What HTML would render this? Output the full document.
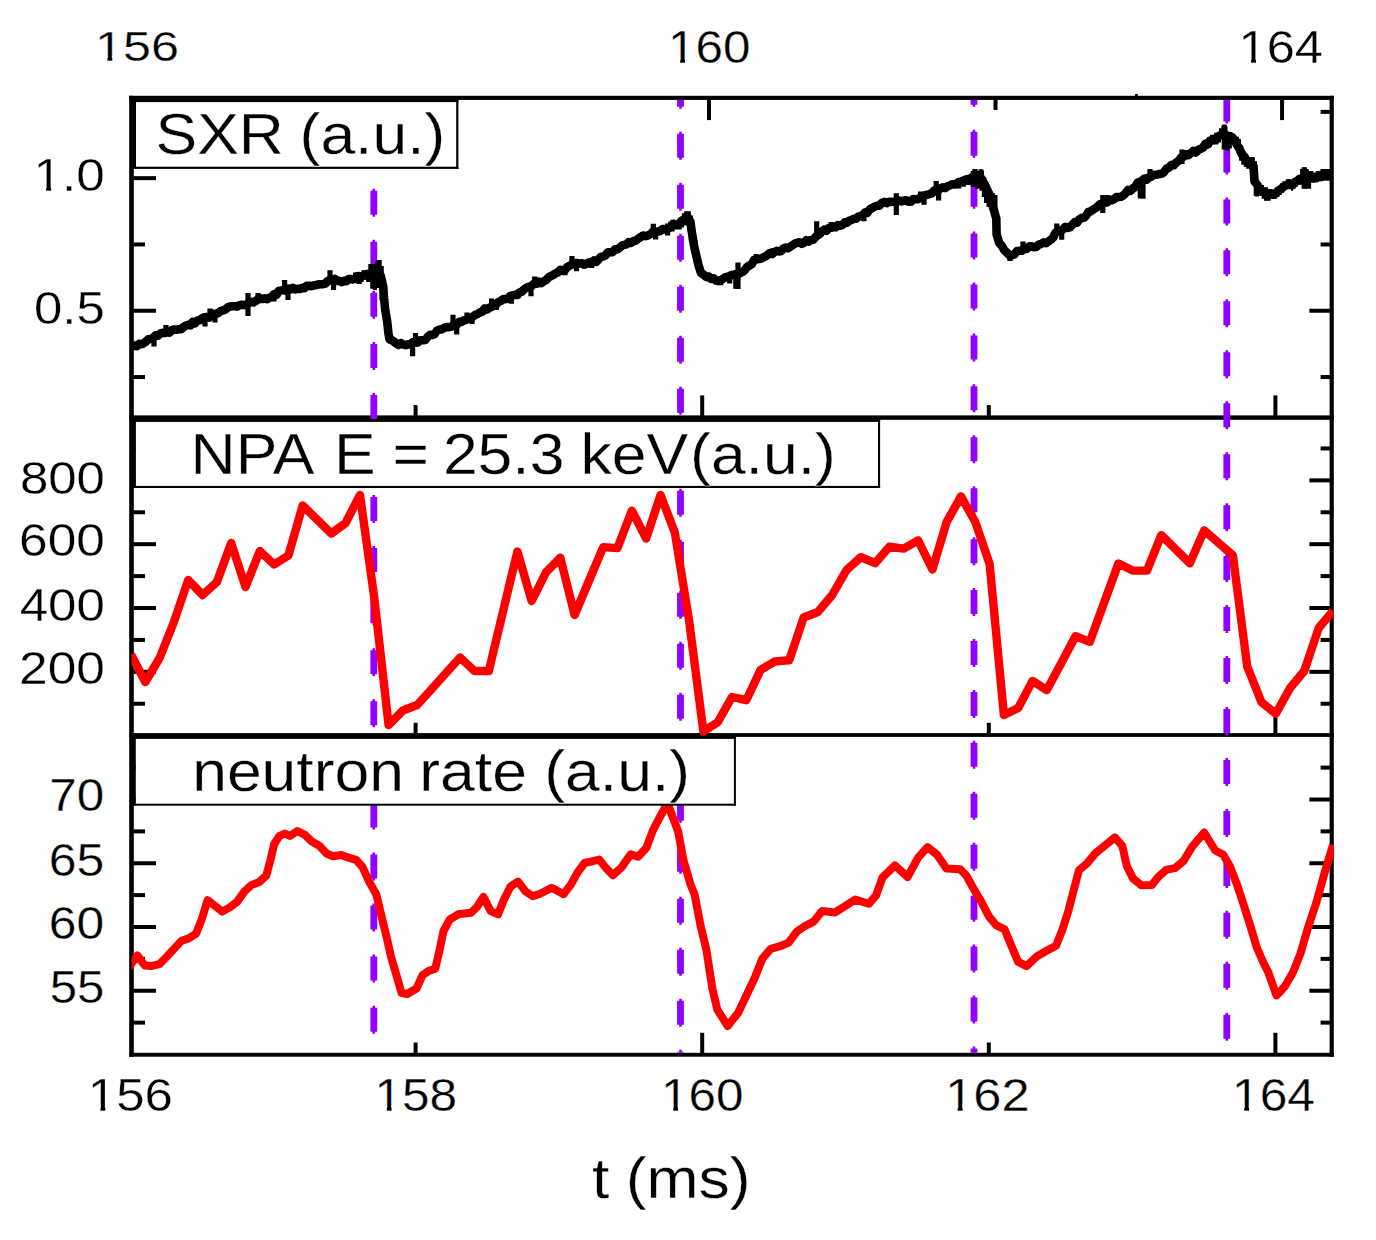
<!DOCTYPE html>
<html><head><meta charset="utf-8"><style>
html,body{margin:0;padding:0;background:#fff;}
svg{display:block;}
text{font-family:"Liberation Sans",sans-serif;fill:#000;stroke:#fff;stroke-width:0.3px;}
</style></head><body>
<svg width="1376" height="1240" viewBox="0 0 1376 1240">
<rect width="1376" height="1240" fill="#fff"/>
<rect x="133.30" y="109.85" width="11.70" height="4.00" fill="#000"/>
<rect x="1320.60" y="109.85" width="9.50" height="4.00" fill="#000"/>
<rect x="133.30" y="176.15" width="22.70" height="4.00" fill="#000"/>
<rect x="1309.40" y="176.15" width="20.70" height="4.00" fill="#000"/>
<rect x="133.30" y="242.45" width="11.70" height="4.00" fill="#000"/>
<rect x="1320.60" y="242.45" width="9.50" height="4.00" fill="#000"/>
<rect x="133.30" y="308.75" width="22.70" height="4.00" fill="#000"/>
<rect x="1309.40" y="308.75" width="20.70" height="4.00" fill="#000"/>
<rect x="133.30" y="375.05" width="11.70" height="4.00" fill="#000"/>
<rect x="1320.60" y="375.05" width="9.50" height="4.00" fill="#000"/>
<rect x="133.30" y="446.46" width="11.70" height="4.00" fill="#000"/>
<rect x="1320.60" y="446.46" width="9.50" height="4.00" fill="#000"/>
<rect x="133.30" y="478.37" width="22.70" height="4.00" fill="#000"/>
<rect x="1309.40" y="478.37" width="20.70" height="4.00" fill="#000"/>
<rect x="133.30" y="510.28" width="11.70" height="4.00" fill="#000"/>
<rect x="1320.60" y="510.28" width="9.50" height="4.00" fill="#000"/>
<rect x="133.30" y="542.19" width="22.70" height="4.00" fill="#000"/>
<rect x="1309.40" y="542.19" width="20.70" height="4.00" fill="#000"/>
<rect x="133.30" y="574.10" width="11.70" height="4.00" fill="#000"/>
<rect x="1320.60" y="574.10" width="9.50" height="4.00" fill="#000"/>
<rect x="133.30" y="606.01" width="22.70" height="4.00" fill="#000"/>
<rect x="1309.40" y="606.01" width="20.70" height="4.00" fill="#000"/>
<rect x="133.30" y="637.92" width="11.70" height="4.00" fill="#000"/>
<rect x="1320.60" y="637.92" width="9.50" height="4.00" fill="#000"/>
<rect x="133.30" y="669.83" width="22.70" height="4.00" fill="#000"/>
<rect x="1309.40" y="669.83" width="20.70" height="4.00" fill="#000"/>
<rect x="133.30" y="701.74" width="11.70" height="4.00" fill="#000"/>
<rect x="1320.60" y="701.74" width="9.50" height="4.00" fill="#000"/>
<rect x="133.30" y="765.62" width="11.70" height="4.00" fill="#000"/>
<rect x="1320.60" y="765.62" width="9.50" height="4.00" fill="#000"/>
<rect x="133.30" y="797.50" width="22.70" height="4.00" fill="#000"/>
<rect x="1309.40" y="797.50" width="20.70" height="4.00" fill="#000"/>
<rect x="133.30" y="829.38" width="11.70" height="4.00" fill="#000"/>
<rect x="1320.60" y="829.38" width="9.50" height="4.00" fill="#000"/>
<rect x="133.30" y="861.25" width="22.70" height="4.00" fill="#000"/>
<rect x="1309.40" y="861.25" width="20.70" height="4.00" fill="#000"/>
<rect x="133.30" y="893.12" width="11.70" height="4.00" fill="#000"/>
<rect x="1320.60" y="893.12" width="9.50" height="4.00" fill="#000"/>
<rect x="133.30" y="925.00" width="22.70" height="4.00" fill="#000"/>
<rect x="1309.40" y="925.00" width="20.70" height="4.00" fill="#000"/>
<rect x="133.30" y="956.88" width="11.70" height="4.00" fill="#000"/>
<rect x="1320.60" y="956.88" width="9.50" height="4.00" fill="#000"/>
<rect x="133.30" y="988.75" width="22.70" height="4.00" fill="#000"/>
<rect x="1309.40" y="988.75" width="20.70" height="4.00" fill="#000"/>
<rect x="133.30" y="1020.62" width="11.70" height="4.00" fill="#000"/>
<rect x="1320.60" y="1020.62" width="9.50" height="4.00" fill="#000"/>
<rect x="413.60" y="405.10" width="4.00" height="10.80" fill="#000"/>
<rect x="700.20" y="395.40" width="4.00" height="20.50" fill="#000"/>
<rect x="986.80" y="405.10" width="4.00" height="10.80" fill="#000"/>
<rect x="1273.40" y="395.40" width="4.00" height="20.50" fill="#000"/>
<rect x="413.60" y="722.80" width="4.00" height="10.80" fill="#000"/>
<rect x="700.20" y="713.10" width="4.00" height="20.50" fill="#000"/>
<rect x="986.80" y="722.80" width="4.00" height="10.80" fill="#000"/>
<rect x="1273.40" y="713.10" width="4.00" height="20.50" fill="#000"/>
<rect x="413.60" y="1042.50" width="4.00" height="10.80" fill="#000"/>
<rect x="700.20" y="1032.80" width="4.00" height="20.50" fill="#000"/>
<rect x="986.80" y="1042.50" width="4.00" height="10.80" fill="#000"/>
<rect x="1273.40" y="1032.80" width="4.00" height="20.50" fill="#000"/>
<rect x="420.44" y="99.40" width="4.00" height="10.50" fill="#000"/>
<rect x="706.98" y="99.40" width="4.00" height="20.70" fill="#000"/>
<rect x="993.52" y="99.40" width="4.00" height="10.50" fill="#000"/>
<rect x="1280.06" y="99.40" width="4.00" height="20.70" fill="#000"/>
<rect x="129.20" y="95.80" width="1204.60" height="4.10" fill="#000"/>
<rect x="129.20" y="1052.80" width="1204.60" height="3.90" fill="#000"/>
<rect x="129.20" y="95.80" width="4.60" height="960.90" fill="#000"/>
<rect x="1329.60" y="95.80" width="4.20" height="960.90" fill="#000"/>
<rect x="129.20" y="415.40" width="1204.60" height="4.40" fill="#000"/>
<rect x="129.20" y="733.10" width="1204.60" height="3.80" fill="#000"/>
<rect x="1135.10" y="94.00" width="2.70" height="2.50" fill="#000"/>
<line x1="373.8" y1="99.9" x2="373.8" y2="1052.8" stroke="#9200ff" stroke-width="6.8" stroke-dasharray="24.0 27.06" stroke-dashoffset="11.32"/>
<line x1="373.8" y1="99.9" x2="373.8" y2="1052.8" stroke="#9200ff" stroke-width="2.6" stroke-dasharray="28.0 23.06" stroke-dashoffset="13.32"/>
<line x1="680.5" y1="99.9" x2="680.5" y2="1052.8" stroke="#9200ff" stroke-width="6.8" stroke-dasharray="24.0 27.00" stroke-dashoffset="17.10"/>
<line x1="680.5" y1="99.9" x2="680.5" y2="1052.8" stroke="#9200ff" stroke-width="2.6" stroke-dasharray="28.0 23.00" stroke-dashoffset="19.10"/>
<line x1="974.0" y1="99.9" x2="974.0" y2="1052.8" stroke="#9200ff" stroke-width="6.8" stroke-dasharray="24.0 26.93" stroke-dashoffset="19.13"/>
<line x1="974.0" y1="99.9" x2="974.0" y2="1052.8" stroke="#9200ff" stroke-width="2.6" stroke-dasharray="28.0 22.93" stroke-dashoffset="21.13"/>
<line x1="1226.8" y1="99.9" x2="1226.8" y2="1052.8" stroke="#9200ff" stroke-width="6.8" stroke-dasharray="24.0 26.96" stroke-dashoffset="2.42"/>
<line x1="1226.8" y1="99.9" x2="1226.8" y2="1052.8" stroke="#9200ff" stroke-width="2.6" stroke-dasharray="28.0 22.96" stroke-dashoffset="4.42"/>
<defs><clipPath id="cx"><rect x="131.5" y="90" width="1202.3" height="980"/></clipPath></defs><g clip-path="url(#cx)"><path d="M129.5,348.0 L131.9,346.7 L134.3,345.5 L136.8,346.2 L139.2,343.8 L141.6,344.3 L143.9,343.1 L146.3,341.3 L148.6,339.0 L151.0,339.0 L153.3,337.7 L155.6,335.4 L157.9,335.6 L160.3,333.6 L162.6,332.7 L164.9,333.0 L167.2,332.1 L169.5,332.7 L171.9,330.0 L174.2,329.6 L176.5,329.8 L178.8,329.2 L181.1,329.2 L183.5,327.1 L185.8,325.6 L188.1,324.9 L190.4,325.4 L192.8,321.7 L195.1,323.2 L197.5,320.5 L199.8,320.2 L202.1,318.3 L204.4,317.3 L206.8,317.0 L209.1,317.6 L211.4,315.8 L213.7,313.7 L216.0,313.8 L218.4,312.9 L220.7,311.0 L223.0,310.3 L225.3,309.6 L227.7,307.4 L230.0,306.6 L232.4,306.2 L234.7,306.3 L237.0,306.5 L239.3,305.4 L241.7,304.7 L244.0,305.1 L246.3,304.5 L248.6,303.4 L250.9,301.9 L253.3,302.4 L255.6,301.1 L257.9,299.5 L260.2,298.4 L262.5,299.0 L264.9,298.4 L267.2,299.1 L269.5,297.6 L271.8,296.9 L274.2,294.1 L276.5,294.8 L278.9,290.8 L281.2,290.5 L283.5,290.0 L285.8,290.8 L288.1,288.7 L290.5,289.5 L292.8,287.9 L295.1,289.5 L297.4,288.8 L299.7,289.0 L302.1,287.9 L304.4,288.2 L306.8,285.9 L309.1,285.9 L311.4,286.1 L313.7,285.5 L316.1,285.1 L318.4,284.4 L320.7,284.2 L323.0,284.2 L325.4,283.5 L327.7,281.0 L330.0,280.1 L332.3,280.7 L334.7,279.0 L337.0,281.0 L339.3,280.9 L341.7,282.1 L344.0,280.7 L346.3,281.2 L348.6,279.1 L351.0,279.0 L353.3,279.4 L355.6,278.4 L358.3,276.0 L361.0,276.4 L363.7,275.5 L366.0,274.2 L368.4,273.8 L370.7,273.3 L373.0,275.1 L375.4,272.9 L377.7,273.7 L380.8,276.0 L383.2,286.5 L384.0,298.1 L385.2,309.8 L387.2,321.4 L388.4,333.0 L389.6,339.5 L391.8,340.1 L394.1,341.8 L396.3,343.5 L398.6,345.0 L401.0,343.1 L403.3,344.6 L405.6,345.2 L407.9,344.4 L410.3,344.4 L412.6,342.3 L415.1,342.8 L417.7,342.5 L420.2,340.3 L422.8,340.2 L425.3,340.0 L427.6,337.0 L430.0,334.8 L432.3,334.9 L434.6,334.1 L437.0,330.6 L439.3,329.6 L441.6,329.5 L444.1,327.9 L446.6,327.1 L449.1,327.1 L451.7,326.6 L454.2,324.8 L456.7,324.7 L459.0,321.9 L461.4,321.9 L463.7,320.5 L466.1,319.8 L468.4,318.3 L470.7,318.5 L473.0,316.5 L475.4,314.8 L477.7,313.9 L480.0,312.4 L482.3,311.6 L484.7,308.4 L487.0,309.5 L489.3,307.8 L491.7,306.8 L494.0,304.3 L496.3,304.2 L498.6,301.9 L501.0,300.9 L503.3,299.0 L505.6,299.1 L507.9,298.7 L510.2,296.1 L512.6,295.3 L514.9,294.9 L517.2,295.0 L519.5,292.5 L521.9,291.6 L524.2,289.3 L526.5,287.7 L528.9,286.7 L531.2,286.3 L533.7,284.0 L536.2,283.8 L538.8,281.7 L541.3,283.2 L543.8,281.3 L546.3,279.9 L548.6,277.3 L550.9,276.1 L553.3,274.9 L555.6,273.4 L557.9,272.3 L560.2,269.9 L562.6,270.8 L564.9,269.9 L567.2,267.1 L569.6,265.8 L571.9,264.6 L574.4,263.2 L576.9,263.0 L579.5,263.6 L582.0,263.2 L584.5,264.7 L587.0,263.5 L589.3,262.4 L591.6,263.3 L593.9,260.5 L596.3,261.9 L598.6,259.3 L601.0,256.8 L603.3,256.5 L605.6,255.2 L607.9,252.2 L610.3,252.3 L612.6,252.2 L614.9,249.3 L617.2,249.4 L619.5,247.9 L621.9,245.6 L624.2,244.9 L626.5,244.3 L628.8,242.2 L631.1,242.9 L633.5,241.1 L635.8,240.7 L638.1,238.8 L640.6,237.1 L643.2,235.5 L645.7,236.1 L648.2,235.4 L650.8,233.8 L653.3,231.5 L655.6,232.0 L657.9,231.6 L660.2,231.0 L662.6,229.0 L664.9,229.5 L667.2,229.0 L669.5,227.6 L671.8,225.7 L674.2,224.8 L676.5,224.6 L678.8,224.3 L681.5,220.8 L684.3,219.3 L687.0,216.0 L690.5,222.0 L691.6,230.7 L694.5,248.1 L698.6,265.6 L700.9,272.7 L704.0,275.0 L706.4,277.2 L708.9,276.5 L711.3,278.9 L713.7,278.4 L716.0,280.5 L718.2,281.0 L720.5,280.3 L723.3,278.6 L726.0,276.9 L728.8,276.5 L731.1,275.2 L733.5,274.6 L735.8,274.1 L738.1,274.5 L740.4,273.0 L742.6,271.9 L744.9,269.9 L747.2,266.9 L749.5,265.5 L751.8,264.1 L754.0,260.0 L756.3,259.4 L758.6,259.0 L760.8,258.8 L763.1,257.5 L765.3,256.6 L767.6,254.8 L769.9,253.0 L772.1,254.0 L774.4,252.2 L776.7,250.8 L779.0,251.4 L781.2,251.0 L783.5,248.4 L785.8,247.5 L788.0,248.3 L790.3,246.7 L792.6,245.2 L794.9,243.6 L797.1,242.8 L799.4,242.2 L801.7,243.9 L803.9,242.9 L806.2,240.3 L808.4,241.7 L810.7,240.1 L813.0,240.0 L815.2,237.5 L817.5,235.1 L819.8,234.2 L822.0,231.4 L824.3,229.6 L826.5,230.9 L828.8,228.0 L831.1,227.8 L833.3,226.7 L835.6,227.3 L837.9,225.1 L840.2,225.7 L842.5,224.9 L844.7,222.4 L847.0,222.6 L849.2,220.8 L851.5,219.9 L853.7,218.7 L856.0,218.7 L858.2,216.7 L860.5,216.1 L862.7,215.3 L865.1,212.4 L867.4,212.9 L869.8,209.4 L872.1,208.0 L874.5,206.7 L876.9,205.8 L879.4,205.6 L881.8,202.9 L884.2,201.9 L886.6,203.1 L889.0,201.8 L891.5,201.9 L893.9,201.8 L896.3,201.7 L898.7,200.3 L901.1,201.5 L903.6,200.7 L906.0,200.2 L908.4,201.7 L910.8,201.8 L913.2,199.1 L915.7,199.2 L918.1,199.2 L920.5,197.7 L922.7,196.9 L925.0,195.2 L927.2,194.8 L929.5,193.9 L931.7,193.6 L934.0,190.6 L936.2,190.8 L938.4,190.1 L940.7,188.2 L942.9,187.4 L945.2,188.0 L947.4,186.3 L949.7,185.5 L951.9,184.4 L954.1,184.4 L956.3,184.1 L958.5,182.0 L960.8,181.7 L963.0,180.7 L965.2,179.9 L967.6,179.0 L970.0,178.7 L972.5,177.1 L974.9,176.3 L977.9,177.2 L980.9,178.0 L985.0,185.0 L989.4,194.4 L996.3,218.6 L996.6,234.3 L999.1,242.8 L1001.8,245.9 L1004.4,250.4 L1007.1,252.8 L1009.7,255.4 L1012.1,255.3 L1014.5,254.3 L1017.0,251.1 L1019.4,250.8 L1021.8,250.7 L1024.2,248.2 L1026.6,249.0 L1029.0,246.6 L1031.5,246.3 L1033.9,247.1 L1036.3,247.0 L1038.7,244.6 L1041.1,244.0 L1043.6,242.4 L1046.0,243.1 L1048.4,241.5 L1050.8,239.8 L1053.2,237.5 L1055.6,232.7 L1058.0,231.2 L1060.4,230.7 L1062.9,229.5 L1065.3,226.8 L1067.7,227.9 L1070.2,227.1 L1072.6,224.6 L1074.9,222.1 L1077.1,222.6 L1079.4,219.3 L1081.7,217.9 L1083.9,217.8 L1086.2,215.6 L1088.4,211.9 L1090.7,211.3 L1093.1,209.5 L1095.5,208.2 L1098.0,206.1 L1100.4,204.1 L1102.8,203.4 L1105.1,202.0 L1107.3,202.4 L1109.6,199.5 L1111.8,200.3 L1114.1,199.1 L1116.4,197.0 L1118.6,197.1 L1120.9,196.8 L1123.3,195.3 L1125.7,193.1 L1128.1,189.9 L1130.5,190.9 L1132.8,188.4 L1135.2,187.1 L1137.6,182.7 L1140.0,182.0 L1142.2,180.3 L1144.4,178.5 L1146.7,179.7 L1148.9,177.2 L1151.1,176.8 L1153.9,174.8 L1156.8,174.7 L1159.6,174.0 L1162.0,173.6 L1164.3,171.8 L1166.7,168.5 L1169.1,167.6 L1171.5,164.7 L1173.9,165.2 L1176.3,162.4 L1178.8,160.9 L1181.2,157.3 L1183.6,156.7 L1186.0,154.3 L1188.4,155.1 L1190.8,153.2 L1193.3,151.0 L1195.7,152.5 L1198.1,150.1 L1200.5,148.8 L1203.0,147.6 L1205.4,143.8 L1207.8,144.4 L1210.3,140.4 L1212.7,140.0 L1215.0,139.8 L1217.3,137.2 L1219.7,135.6 L1222.0,134.9 L1224.3,133.4 L1226.8,136.3 L1229.4,136.0 L1232.0,137.2 L1234.5,140.0 L1236.9,144.7 L1239.3,148.5 L1241.7,154.0 L1244.8,157.3 L1248.0,163.0 L1250.8,163.5 L1253.5,166.0 L1254.5,181.4 L1257.5,185.2 L1260.6,191.6 L1263.0,191.7 L1265.5,193.0 L1267.9,194.5 L1270.3,193.7 L1272.8,194.8 L1275.2,193.8 L1278.1,190.7 L1281.0,188.9 L1283.9,186.5 L1286.8,185.0 L1289.7,185.0 L1292.6,185.0 L1294.9,182.0 L1297.2,181.1 L1299.6,178.7 L1301.9,179.3 L1304.2,177.0 L1306.8,177.2 L1309.3,176.1 L1311.9,176.9 L1314.4,177.0 L1316.7,178.0 L1319.1,175.2 L1321.4,177.0 L1323.7,175.5 L1326.0,175.4 L1328.3,176.1 L1330.7,174.4 L1333.0,174.4" fill="none" stroke="#000" stroke-width="8.6" stroke-linejoin="round" stroke-linecap="butt"/>
<path d="M154.0,337.4 L154.0,346.4 M166.0,332.7 L166.0,325.0 M205.0,318.2 L205.0,326.6 M210.0,316.3 L210.0,308.6 M215.0,314.1 L215.0,322.6 M248.0,303.8 L248.0,293.0 M248.0,303.8 L248.0,316.0 M258.0,299.5 L258.0,293.0 M274.0,294.9 L274.0,301.6 M284.6,290.1 L284.6,280.0 M288.0,289.8 L288.0,300.0 M330.0,280.1 L330.0,270.2 M333.5,280.2 L333.5,290.0 M355.6,278.4 L355.6,272.6 M359.0,277.2 L359.0,284.0 M378.8,274.5 L378.8,260.3 M373.0,274.3 L373.0,288.8 M412.6,342.3 L412.6,356.3 M415.5,341.8 L415.5,333.0 M456.7,324.7 L456.7,334.5 M453.0,325.9 L453.0,314.8 M467.0,319.1 L467.0,312.4 M472.0,316.5 L472.0,324.0 M491.6,305.7 L491.6,298.5 M496.3,303.3 L496.3,310.0 M511.4,297.1 L511.4,303.7 M534.7,284.8 L534.7,276.4 M531.0,286.4 L531.0,296.2 M571.9,264.6 L571.9,256.0 M565.0,268.4 L565.0,275.2 M576.5,264.3 L576.5,271.2 M591.6,263.3 L591.6,268.0 M653.3,231.5 L653.3,223.7 M655.6,231.1 L655.6,239.4 M673.0,226.7 L673.0,219.7 M720.7,280.2 L720.7,285.3 M735.8,275.0 L735.8,288.8 M738.0,274.5 L738.0,262.5 M738.0,274.5 L738.0,289.0 M729.7,276.3 L729.7,283.6 M756.3,259.4 L756.3,254.0 M773.2,252.7 L773.2,248.0 M816.7,236.1 L816.7,221.3 M816.7,236.1 L816.7,239.5 M831.2,227.3 L831.2,222.0 M863.9,214.4 L863.9,221.3 M896.3,201.7 L896.3,193.2 M896.3,201.7 L896.3,215.0 M924.0,196.2 L924.0,204.7 M920.5,197.7 L920.5,191.4 M936.2,190.8 L936.2,181.1 M938.6,189.8 L938.6,200.5 M974.9,176.3 L974.9,169.0 M981.0,178.2 L981.0,169.6 M1010.0,255.3 L1010.0,261.0 M1023.0,248.8 L1023.0,241.5 M1056.8,232.5 L1056.8,223.4 M1061.7,229.5 L1061.7,239.7 M1102.8,203.4 L1102.8,195.0 M1102.8,203.4 L1102.8,213.0 M1106.4,202.1 L1106.4,195.0 M1140.3,181.9 L1140.3,198.6 M1150.0,177.3 L1150.0,169.0 M1143.0,180.6 L1143.0,198.8 M1182.0,157.9 L1182.0,149.4 M1182.0,157.9 L1182.0,164.0 M1224.3,133.4 L1224.3,124.7 M1224.3,133.4 L1224.3,149.4 M1252.0,165.2 L1252.0,157.4 M1256.3,184.4 L1256.3,196.0 M1266.5,193.9 L1266.5,200.3 M1288.3,185.7 L1288.3,179.2 M1304.2,177.0 L1304.2,167.6 M1304.2,177.0 L1304.2,188.7" fill="none" stroke="#000" stroke-width="5.2" stroke-linecap="butt"/>
<path d="M355.0,272.2 L356.8,272.2 L356.8,274.2 L361.5,274.2 L361.5,270.2 L368.3,270.2 L368.3,264.1 L375.2,264.1 L375.2,262.1 L377.2,262.1 L377.2,260.1 L381.6,260.1 L381.6,266.1 L383.8,266.1 L383.8,286.3 L386.0,286.3 L386.0,300.0 L379.6,300.0 L379.6,287.9 L377.0,287.9 L377.0,289.9 L372.9,289.9 L372.9,287.9 L370.5,287.9 L370.5,281.9 L366.1,281.9 L366.1,279.8 L363.7,279.8 L363.7,281.9 L361.3,281.9 L361.3,283.9 L357.0,283.9 L357.0,281.9 L355.0,281.9 Z M665.0,223.6 L668.2,223.6 L668.2,221.4 L673.1,221.4 L673.1,219.4 L674.7,219.4 L674.7,221.4 L679.5,221.4 L679.5,219.6 L681.9,219.6 L681.9,213.3 L684.2,213.3 L684.2,211.3 L690.8,211.3 L690.8,215.5 L692.8,215.5 L692.8,223.8 L695.0,223.8 L695.0,239.9 L697.5,239.9 L697.5,250.0 L691.2,250.0 L691.2,241.5 L688.8,241.5 L688.8,225.4 L684.0,225.4 L684.0,227.6 L681.7,227.6 L681.7,229.6 L674.7,229.6 L674.7,231.5 L670.2,231.5 L670.2,235.5 L665.0,235.5 Z M955.0,179.2 L956.8,179.2 L956.8,181.0 L961.7,181.0 L961.7,179.2 L964.1,179.2 L964.1,177.1 L966.3,177.1 L966.3,175.1 L970.7,175.1 L970.7,171.1 L973.1,171.1 L973.1,169.1 L977.2,169.1 L977.2,170.9 L979.6,170.9 L979.6,169.1 L981.8,169.1 L981.8,170.9 L984.0,170.9 L984.0,177.1 L986.3,177.1 L986.3,187.0 L988.7,187.0 L988.7,193.3 L995.1,193.3 L995.1,195.1 L997.5,195.1 L997.5,209.0 L999.8,209.0 L990.9,210.0 L990.9,207.0 L986.5,207.0 L986.5,203.0 L984.0,203.0 L984.0,196.9 L981.8,196.9 L981.8,190.8 L979.6,190.8 L979.6,188.8 L975.2,188.8 L975.2,186.8 L970.7,186.8 L970.7,185.0 L965.9,185.0 L965.9,186.8 L961.3,186.8 L961.3,188.6 L955.0,188.6 Z M1205.0,139.2 L1207.2,139.2 L1207.2,137.0 L1210.1,137.0 L1210.1,134.8 L1214.2,134.8 L1214.2,132.7 L1219.0,132.7 L1219.0,128.3 L1221.2,128.3 L1221.2,126.4 L1223.4,126.4 L1223.4,124.4 L1225.3,124.4 L1225.3,126.4 L1227.5,126.4 L1227.5,132.7 L1231.6,132.7 L1231.6,134.8 L1234.0,134.8 L1234.0,136.8 L1238.9,136.8 L1238.9,138.9 L1241.0,138.9 L1241.0,145.2 L1243.2,145.2 L1243.2,151.0 L1245.6,151.0 L1245.6,159.0 L1248.1,159.0 L1248.1,157.1 L1254.6,157.1 L1254.6,161.2 L1257.0,161.2 L1257.0,175.0 L1250.2,175.0 L1250.2,168.7 L1246.1,168.7 L1246.1,166.8 L1243.7,166.8 L1243.7,164.8 L1241.3,164.8 L1241.3,160.7 L1239.1,160.7 L1239.1,152.7 L1236.9,152.7 L1236.9,148.4 L1234.5,148.4 L1234.5,144.3 L1231.9,144.3 L1231.9,148.4 L1229.7,148.4 L1229.7,150.8 L1225.3,150.8 L1225.3,148.9 L1223.1,148.9 L1223.1,138.7 L1221.0,138.7 L1221.0,142.6 L1218.5,142.6 L1218.5,144.5 L1211.8,144.5 L1211.8,146.7 L1207.4,146.7 L1207.4,148.9 L1205.0,148.9 Z M1255.0,161.2 L1256.7,161.2 L1256.7,178.9 L1259.1,178.9 L1259.1,183.0 L1261.4,183.0 L1261.4,185.0 L1264.0,185.0 L1264.0,187.3 L1268.1,187.3 L1268.1,189.1 L1272.7,189.1 L1272.7,191.1 L1275.1,191.1 L1275.1,189.1 L1277.4,189.1 L1277.4,187.0 L1280.0,187.0 L1280.0,183.3 L1282.3,183.3 L1282.3,181.2 L1286.7,181.2 L1286.7,179.2 L1290.8,179.2 L1290.8,180.9 L1293.1,180.9 L1293.1,179.2 L1298.0,179.2 L1298.0,175.4 L1300.1,175.4 L1300.1,169.0 L1302.4,169.0 L1302.4,167.3 L1306.7,167.3 L1306.7,169.0 L1308.8,169.0 L1308.8,171.0 L1313.4,171.0 L1313.4,172.8 L1315.8,172.8 L1315.8,171.0 L1320.4,171.0 L1320.4,169.0 L1330.5,169.0 L1330.5,180.6 L1315.8,180.6 L1315.8,182.7 L1311.1,182.7 L1311.1,188.8 L1304.4,188.8 L1304.4,183.0 L1302.1,183.0 L1302.1,184.7 L1297.7,184.7 L1297.7,186.7 L1295.4,186.7 L1295.4,188.8 L1293.1,188.8 L1293.1,190.8 L1291.0,190.8 L1291.0,188.8 L1284.1,188.8 L1284.1,192.8 L1281.7,192.8 L1281.7,194.9 L1279.4,194.9 L1279.4,196.9 L1277.1,196.9 L1277.1,198.7 L1270.7,198.7 L1270.7,200.7 L1264.0,200.7 L1264.0,198.7 L1261.7,198.7 L1261.7,194.9 L1259.1,194.9 L1259.1,196.6 L1255.0,196.6 Z" fill="#000"/>
<path d="M131.0,654.5 L145.3,682.0 L159.6,658.0 L173.9,622.0 L188.2,580.0 L202.6,595.0 L216.9,582.0 L231.2,543.0 L245.5,587.0 L259.8,551.0 L274.1,564.5 L288.4,555.5 L302.7,505.5 L317.0,519.5 L331.3,533.5 L345.6,523.0 L360.0,495.0 L374.3,598.0 L388.6,725.0 L402.9,710.5 L417.2,705.0 L431.5,689.2 L445.8,673.3 L460.1,657.5 L474.4,671.0 L488.8,671.0 L503.1,611.2 L517.4,551.5 L531.7,601.0 L546.0,572.3 L560.3,557.8 L574.6,615.0 L588.9,581.0 L603.2,547.1 L617.5,548.1 L631.9,510.6 L646.2,538.5 L660.5,495.0 L674.8,532.4 L689.1,620.6 L703.4,731.6 L717.7,722.2 L732.0,697.0 L746.3,700.2 L760.6,669.8 L775.0,661.4 L789.3,660.2 L803.6,617.5 L817.9,612.0 L832.2,595.0 L846.5,570.2 L860.8,557.2 L875.1,563.2 L889.4,546.7 L903.7,548.6 L918.1,540.4 L932.4,569.5 L946.7,521.9 L961.0,496.4 L975.3,522.0 L989.6,563.9 L1003.9,715.0 L1018.2,708.0 L1032.5,680.9 L1046.8,690.1 L1061.2,663.2 L1075.5,636.2 L1089.8,641.9 L1104.1,602.7 L1118.4,563.5 L1132.7,570.6 L1147.0,570.6 L1161.3,535.1 L1175.6,549.2 L1189.9,563.2 L1204.2,530.3 L1218.6,542.9 L1232.9,555.5 L1247.2,666.5 L1261.5,702.2 L1275.8,713.7 L1290.1,688.0 L1304.4,670.7 L1318.7,628.0 L1333.0,611.0" fill="none" stroke="#f00" stroke-width="8.4" stroke-linejoin="round" stroke-linecap="butt"/>
<path d="M128.5,968.0 L137.3,955.5 L144.7,965.4 L152.0,965.9 L159.4,964.2 L166.7,956.8 L174.0,948.9 L181.4,940.9 L188.7,938.4 L196.1,933.6 L201.3,920.6 L207.6,900.2 L214.9,905.9 L222.3,911.6 L229.6,907.4 L236.9,902.1 L244.3,891.6 L251.6,884.9 L259.0,882.2 L266.3,875.5 L270.5,860.0 L274.2,844.0 L279.4,836.0 L284.7,833.5 L289.9,836.0 L297.3,831.0 L304.6,834.6 L311.9,841.5 L319.3,845.7 L326.6,853.5 L332.9,856.2 L341.3,855.0 L348.6,857.7 L356.0,859.8 L362.3,866.7 L368.6,880.7 L376.3,894.4 L381.3,915.3 L386.4,936.3 L391.2,957.3 L397.3,978.2 L401.5,992.9 L407.3,994.0 L416.5,988.5 L422.6,975.1 L428.9,970.9 L435.2,968.8 L439.4,951.0 L443.5,931.0 L449.8,919.5 L458.2,914.3 L470.8,912.8 L477.1,906.9 L483.4,896.9 L490.7,911.1 L498.1,914.3 L504.4,898.6 L510.7,886.4 L518.0,881.6 L525.3,891.2 L532.7,896.2 L540.0,893.7 L551.5,887.9 L556.3,890.2 L563.6,894.2 L571.0,884.4 L577.3,872.8 L584.6,863.0 L591.9,861.3 L599.3,859.6 L605.6,867.6 L612.9,875.3 L621.3,867.6 L630.7,854.4 L638.1,856.7 L646.5,847.7 L652.7,830.9 L659.0,818.7 L667.5,803.0 L678.3,832.0 L683.2,859.2 L690.5,884.4 L694.6,894.4 L700.6,925.8 L706.4,950.0 L712.4,988.7 L717.3,1009.7 L727.7,1026.0 L738.2,1012.8 L746.6,995.0 L755.0,977.2 L762.3,958.7 L770.7,948.9 L780.2,946.2 L788.6,942.6 L796.9,931.5 L805.3,925.8 L813.7,921.6 L822.1,911.1 L835.0,912.4 L844.7,906.3 L855.2,899.6 L868.8,903.8 L876.1,895.4 L882.4,877.6 L895.0,865.4 L907.6,877.0 L918.1,857.7 L927.5,847.2 L936.9,854.5 L946.4,868.6 L960.0,869.2 L966.3,875.5 L972.6,887.0 L981.2,901.5 L988.9,916.4 L996.2,925.2 L1004.6,929.4 L1010.9,944.7 L1018.2,961.9 L1026.6,966.1 L1037.1,956.2 L1047.6,950.3 L1056.0,945.7 L1062.3,930.0 L1068.6,910.1 L1074.8,886.0 L1079.0,870.2 L1087.4,862.9 L1095.8,852.8 L1104.2,846.1 L1114.9,837.4 L1122.3,845.8 L1126.8,866.0 L1133.1,878.6 L1141.5,885.3 L1151.9,884.9 L1158.2,877.0 L1166.6,869.6 L1175.0,868.1 L1183.4,861.2 L1191.8,847.2 L1204.2,832.5 L1215.2,850.5 L1223.1,854.5 L1229.9,866.2 L1236.8,884.0 L1243.5,904.3 L1250.3,925.8 L1257.0,948.0 L1264.0,964.0 L1268.1,971.9 L1276.5,995.5 L1284.8,986.6 L1293.2,971.9 L1300.6,953.1 L1307.9,927.9 L1316.3,902.7 L1324.7,872.4 L1333.0,845.0" fill="none" stroke="#f00" stroke-width="8.0" stroke-linejoin="round" stroke-linecap="butt"/></g>
<rect x="135.70" y="101.80" width="320.80" height="65.20" fill="#fff"/>
<rect x="132.90" y="99.00" width="325.50" height="3.10" fill="#000"/>
<rect x="132.90" y="166.70" width="325.50" height="2.20" fill="#000"/>
<rect x="132.90" y="99.00" width="3.10" height="69.90" fill="#000"/>
<rect x="456.20" y="99.00" width="2.20" height="69.90" fill="#000"/>
<rect x="135.60" y="421.60" width="742.70" height="64.60" fill="#fff"/>
<rect x="132.90" y="418.90" width="747.20" height="3.00" fill="#000"/>
<rect x="132.90" y="485.90" width="747.20" height="2.10" fill="#000"/>
<rect x="132.90" y="418.90" width="3.00" height="69.10" fill="#000"/>
<rect x="878.00" y="418.90" width="2.10" height="69.10" fill="#000"/>
<rect x="135.50" y="738.60" width="598.70" height="65.40" fill="#fff"/>
<rect x="132.90" y="736.00" width="603.00" height="2.90" fill="#000"/>
<rect x="132.90" y="803.70" width="603.00" height="2.00" fill="#000"/>
<rect x="132.90" y="736.00" width="2.90" height="69.70" fill="#000"/>
<rect x="733.90" y="736.00" width="2.00" height="69.70" fill="#000"/>
<g transform="translate(95.02,61.27) scale(1.1716,1)"><text font-size="42.96">156</text><rect x="2.15" y="-5.37" width="8.46" height="6.44" fill="#fff"/><rect x="14.73" y="-5.37" width="8.16" height="6.44" fill="#fff"/></g>
<g transform="translate(668.01,63.14) scale(1.0821,1)"><text font-size="45.63">160</text><rect x="2.28" y="-5.70" width="8.99" height="6.85" fill="#fff"/><rect x="15.65" y="-5.70" width="8.67" height="6.85" fill="#fff"/></g>
<g transform="translate(1238.59,63.14) scale(1.1092,1)"><text font-size="45.63">164</text><rect x="2.28" y="-5.70" width="8.99" height="6.85" fill="#fff"/><rect x="15.65" y="-5.70" width="8.67" height="6.85" fill="#fff"/></g>
<g transform="translate(87.85,1110.55) scale(1.1229,1)"><text font-size="45.40">156</text><rect x="2.27" y="-5.67" width="8.94" height="6.81" fill="#fff"/><rect x="15.57" y="-5.67" width="8.63" height="6.81" fill="#fff"/></g>
<g transform="translate(374.60,1111.05) scale(1.0898,1)"><text font-size="45.40">158</text><rect x="2.27" y="-5.67" width="8.94" height="6.81" fill="#fff"/><rect x="15.57" y="-5.67" width="8.63" height="6.81" fill="#fff"/></g>
<g transform="translate(661.10,1110.55) scale(1.0891,1)"><text font-size="45.40">160</text><rect x="2.27" y="-5.67" width="8.94" height="6.81" fill="#fff"/><rect x="15.57" y="-5.67" width="8.63" height="6.81" fill="#fff"/></g>
<g transform="translate(945.19,1110.55) scale(1.1151,1)"><text font-size="45.40">162</text><rect x="2.27" y="-5.67" width="8.94" height="6.81" fill="#fff"/><rect x="15.57" y="-5.67" width="8.63" height="6.81" fill="#fff"/></g>
<g transform="translate(1231.97,1110.55) scale(1.0963,1)"><text font-size="45.40">164</text><rect x="2.27" y="-5.67" width="8.94" height="6.81" fill="#fff"/><rect x="15.57" y="-5.67" width="8.63" height="6.81" fill="#fff"/></g>
<g transform="translate(33.53,190.85) scale(1.1286,1)"><text font-size="45.40">1.0</text><rect x="2.27" y="-5.67" width="8.94" height="6.81" fill="#fff"/><rect x="15.57" y="-5.67" width="8.63" height="6.81" fill="#fff"/></g>
<g transform="translate(33.96,323.95) scale(1.1215,1)"><text font-size="45.40">0.5</text></g>
<g transform="translate(19.91,493.75) scale(1.1229,1)"><text font-size="45.40">800</text></g>
<g transform="translate(19.02,556.25) scale(1.1348,1)"><text font-size="45.40">600</text></g>
<g transform="translate(19.72,621.15) scale(1.1253,1)"><text font-size="45.40">400</text></g>
<g transform="translate(19.02,683.95) scale(1.1348,1)"><text font-size="45.40">200</text></g>
<g transform="translate(49.23,811.25) scale(1.0874,1)"><text font-size="45.40">70</text></g>
<g transform="translate(48.80,875.95) scale(1.1013,1)"><text font-size="45.40">65</text></g>
<g transform="translate(48.81,938.55) scale(1.0959,1)"><text font-size="45.40">60</text></g>
<g transform="translate(49.73,1003.35) scale(1.0821,1)"><text font-size="45.40">55</text></g>
<g transform="translate(155.56,154.20) scale(1.1050,1)"><text font-size="56.50">SXR</text></g>
<g transform="translate(299.62,154.20) scale(1.1050,1)"><text font-size="56.50">(a.u.)</text></g>
<g transform="translate(190.59,474.10) scale(1.1050,1)"><text font-size="56.50">NPA</text></g>
<g transform="translate(333.99,474.10) scale(1.1050,1)"><text font-size="56.50">E</text></g>
<g transform="translate(392.54,474.10) scale(1.1050,1)"><text font-size="56.50">=</text></g>
<g transform="translate(442.88,474.10) scale(1.1050,1)"><text font-size="56.50">25.3</text></g>
<g transform="translate(580.48,474.10) scale(1.1050,1)"><text font-size="56.50">keV</text></g>
<g transform="translate(690.12,474.10) scale(1.1050,1)"><text font-size="56.50">(a.u.)</text></g>
<g transform="translate(192.18,791.30) scale(1.1050,1)"><text font-size="56.50">neutron</text></g>
<g transform="translate(419.28,791.30) scale(1.1050,1)"><text font-size="56.50">rate</text></g>
<g transform="translate(544.32,791.30) scale(1.1050,1)"><text font-size="56.50">(a.u.)</text></g>
<g transform="translate(592.00,1197.80) scale(1.1050,1)"><text font-size="56.50">t</text></g>
<g transform="translate(625.67,1197.80) scale(1.1050,1)"><text font-size="56.50">(ms)</text></g>
</svg>
</body></html>
